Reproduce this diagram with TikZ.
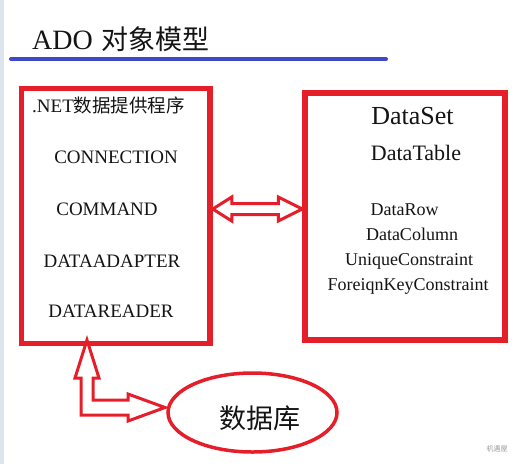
\documentclass[tikz,border=0pt]{standalone}
\usepackage{fontspec}
\setmainfont{Liberation Serif}
\newfontfamily\cjk{Noto Sans CJK SC}
\usetikzlibrary{calc,shapes.geometric}
\definecolor{boxred}{HTML}{E61E2A}
\definecolor{lineblue}{HTML}{3F48C8}
\definecolor{edgeblue}{HTML}{DCE4EE}
\definecolor{inkblack}{HTML}{141414}
\tikzset{
  redbox/.style={draw=boxred, line width=5.5pt, inner sep=0pt},
  hollow/.style={draw=boxred, line width=3pt, line join=miter},
  lbl/.style={anchor=base, inner sep=0pt, text=inkblack},
  fs/.style={font=\fontsize{#1}{#1}\selectfont},
}
\begin{document}
\begin{tikzpicture}[x=1pt,y=-1pt]
\useasboundingbox (0,0) rectangle (518,464);
\fill[white] (0,0) rectangle (518,464);
\fill[edgeblue] (0,0) rectangle (4,464);

% title
\node[lbl, anchor=base west, fs=28] (title) at (32,49) {ADO\hspace{9pt}{\cjk\fontsize{27}{27}\selectfont 对象模型}};
\draw[lineblue, line width=4pt, line cap=round] (11,59) coordinate (bl1) -- (386,59) coordinate (bl2);

% boxes
\node[redbox, minimum width=188.5pt, minimum height=255pt] (L) at (115.75,216) {};
\node[redbox, minimum width=200pt, minimum height=247pt] (R) at (405,216.5) {};

% left box texts
\node[lbl, anchor=base west, fs=19] (net) at (32,112) {.NET{\cjk\fontsize{18.5}{18.5}\selectfont 数据提供程序}};
\node[lbl, fs=19] (conn) at (116,163) {CONNECTION};
\node[lbl, fs=19] (cmd) at (107,215) {COMMAND};
\node[lbl, fs=19] (adp) at (112,267) {DATAADAPTER};
\node[lbl, fs=19] (rdr) at (111,317) {DATAREADER};

% right box texts
\node[lbl, fs=26] (ds) at (412.5,124) {DataSet};
\node[lbl, fs=22] (dt) at (416,160) {DataTable};
\node[lbl, fs=18] (dr1) at (404.5,215) {DataRow};
\node[lbl, fs=18] (dc) at (412,240) {DataColumn};
\node[lbl, fs=18] (uc) at (409,265) {UniqueConstraint};
\node[lbl, fs=18] (fk) at (408,290) {ForeiqnKeyConstraint};

% double arrow between boxes
\coordinate (dl) at ($(L.east)+(0,-7)$);
\coordinate (dr) at ($(R.west)+(0,-7.5)$);
\draw[hollow] (dl) -- ++(19,-12) -- ++(0,6.5) -- ($(dr)+(-24,-5.5)$) -- ($(dr)+(-24,-12)$)
  -- (dr) -- ++(-24,12) -- ++(0,-6.5) -- ($(dl)+(19,5.5)$) -- ($(dl)+(19,12)$) -- cycle;

% database ellipse
\node[ellipse, draw=boxred, line width=3.5pt, minimum width=169pt, minimum height=79pt, inner sep=0pt] (db) at (252.5,412.5) {};
\node[lbl, font=\cjk\fontsize{27}{27}\selectfont] (dbt) at (260,428) {数据库};

% bent arrow: provider <-> database
\coordinate (up) at (87,340);
\coordinate (rt) at (165,407.5);
\draw[hollow] (up) -- (99,378) -- (93,378) -- (93,400) -- (128,400) -- (128,394) -- (rt)
  -- (128,421) -- (128,415) -- (81,415) -- (81,378) -- (75,378) -- cycle;

% watermark
\node[inner sep=0pt, text=black!40, font=\cjk\fontsize{7}{7}\selectfont] (wm) at (497,449) {机遇屋};
\end{tikzpicture}
\end{document}
